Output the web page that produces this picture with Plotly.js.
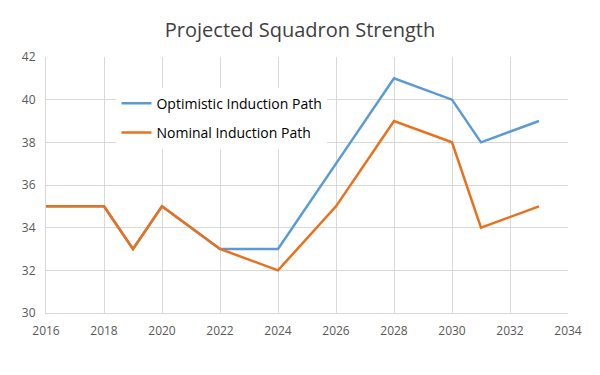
<!DOCTYPE html>
<html><head><meta charset="utf-8">
<script src="https://cdn.plot.ly/plotly-3.0.1.min.js"></script>
<style>body{margin:0;background:#fff}#c{width:600px;height:375px}</style>
</head><body><div id="c"></div>
<script>
const years = [2016, 2018, 2019, 2020, 2022, 2024, 2026, 2028, 2030, 2031, 2033];
const optimistic = [35, 35, 33, 35, 33, 33, 37, 41, 40, 38, 39];
const nominal = [35, 35, 33, 35, 33, 32, 35, 39, 38, 34, 35];
const xTicks = [2016, 2018, 2020, 2022, 2024, 2026, 2028, 2030, 2032, 2034];
const yTicks = [30, 32, 34, 36, 38, 40, 42];

const traces = [
  {x: years, y: optimistic, mode: 'lines', name: 'Optimistic Induction Path', legendgroup: 'a', line: {color: '#5b9bd5', width: 2.5}},
  {x: years, y: nominal, mode: 'lines', name: 'Nominal Induction Path', legendgroup: 'b', line: {color: '#e8711c', width: 2.5}}
];
const layout = {
  width: 600, height: 375,
  margin: {l: 46, r: 32, t: 57, b: 62},
  paper_bgcolor: '#fff', plot_bgcolor: '#fff',
  font: {family: 'Open Sans, sans-serif', color: '#595959'},
  title: {text: 'Projected Squadron Strength', font: {size: 20, color: '#404040'}, x: 0.5, xanchor: 'center', y: 0.92, yanchor: 'middle'},
  xaxis: {range: [2016, 2034], tickvals: xTicks, ticktext: xTicks.map(String), showgrid: true, gridcolor: '#d9d9d9', zeroline: false, showline: true, linecolor: '#d9d9d9', tickfont: {size: 12, color: '#595959'}, ticks: '', ticklabelstandoff: 7},
  yaxis: {range: [30, 42], tickvals: yTicks, ticktext: yTicks.map(String), showgrid: true, gridcolor: '#d9d9d9', zeroline: false, showline: true, linecolor: '#d9d9d9', tickfont: {size: 12, color: '#595959'}, ticks: '', ticklabelstandoff: 7},
  showlegend: true,
  legend: {x: 0.135, y: 0.88, xanchor: 'left', yanchor: 'top', bgcolor: '#fff', font: {size: 14, color: '#000'}, traceorder: 'grouped', tracegroupgap: 8, itemwidth: 30}
};
Plotly.newPlot('c', traces, layout, {displayModeBar: false, staticPlot: true});
</script></body></html>
